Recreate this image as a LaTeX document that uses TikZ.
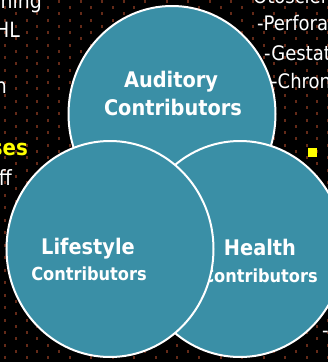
\documentclass[tikz,border=0pt]{standalone}
\usepackage{fontspec}
\setmainfont{DejaVu Sans Condensed}
\usetikzlibrary{shapes.geometric, positioning}
\definecolor{venncol}{RGB}{58,143,166}
\definecolor{dotcol}{RGB}{100,42,24}
\definecolor{slideyellow}{RGB}{255,255,0}

\begin{document}
\begin{tikzpicture}[x=1pt, y=-1pt,
        bubble/.style={ellipse, draw=white, line width=2pt, fill=venncol,
            minimum width=207pt, minimum height=216pt, inner sep=0pt},
        title/.style={text=white, inner sep=0pt, anchor=base,
            font=\bfseries\fontsize{21.5}{21.5}\selectfont},
        subtitle/.style={title, font=\bfseries\fontsize{18}{18}\selectfont},
        side/.style={text=white, inner sep=0pt,
            font=\fontsize{20}{20}\selectfont},
        leftside/.style={side, anchor=base east,
            font=\fontsize{21}{21}\selectfont}]
    \useasboundingbox (0,0) rectangle (328,362);
    \clip (0,0) rectangle (328,362);
    \fill[black] (0,0) rectangle (328,362);
    % dotted slide background
    \foreach \j in {-2,...,28}
        \foreach \m in {-4,...,26}
            \fill[dotcol] ({25.7+10.77*\j}, {43.5+12.5*\m+6.25*mod(\j+4,2)}) rectangle ++(2,3);

    % text of the slide behind the diagram
    \node[leftside] (warn) at (42,8) {rning};
    \node[leftside] (shl) at (20,37) {HL};
    \node[leftside] (lin) at (7,93) {n};
    \node[leftside, text=slideyellow, font=\bfseries\fontsize{22}{22}\selectfont] (causes) at (28,155) {ses};
    \node[leftside] (off) at (12,185) {ff};
    \node[side, anchor=base west] (oto) at (253,3) {Otoscler};
    \node[side, anchor=base west] (perf) at (257,30) {-Perfora};
    \node[side, anchor=base west] (gest) at (264,60) {-Gestat};
    \node[side, anchor=base west] (chron) at (271,88) {-Chron};
    \node[fill=slideyellow, minimum size=9pt, inner sep=0pt] (bullet) at (312.5,152) {};
    \node[side, anchor=base west] (dash) at (322,337) {-};

    % the three contributors
    \node[bubble] (aud) at (172,114) {};
    \node[title] (audA) at (171,87) {Auditory};
    \node[title] (audB) at (173,115) {Contributors};

    \node[bubble] (health) at (240,249) {};
    \node[title] (healthA) at (260,255) {Health};
    \node[subtitle] (healthB) at (260,282) {Contributors};

    \node[bubble] (life) at (110,249) {};
    \node[title] (lifeA) at (88,254) {Lifestyle};
    \node[subtitle] (lifeB) at (89,280) {Contributors};
\end{tikzpicture}
\end{document}
